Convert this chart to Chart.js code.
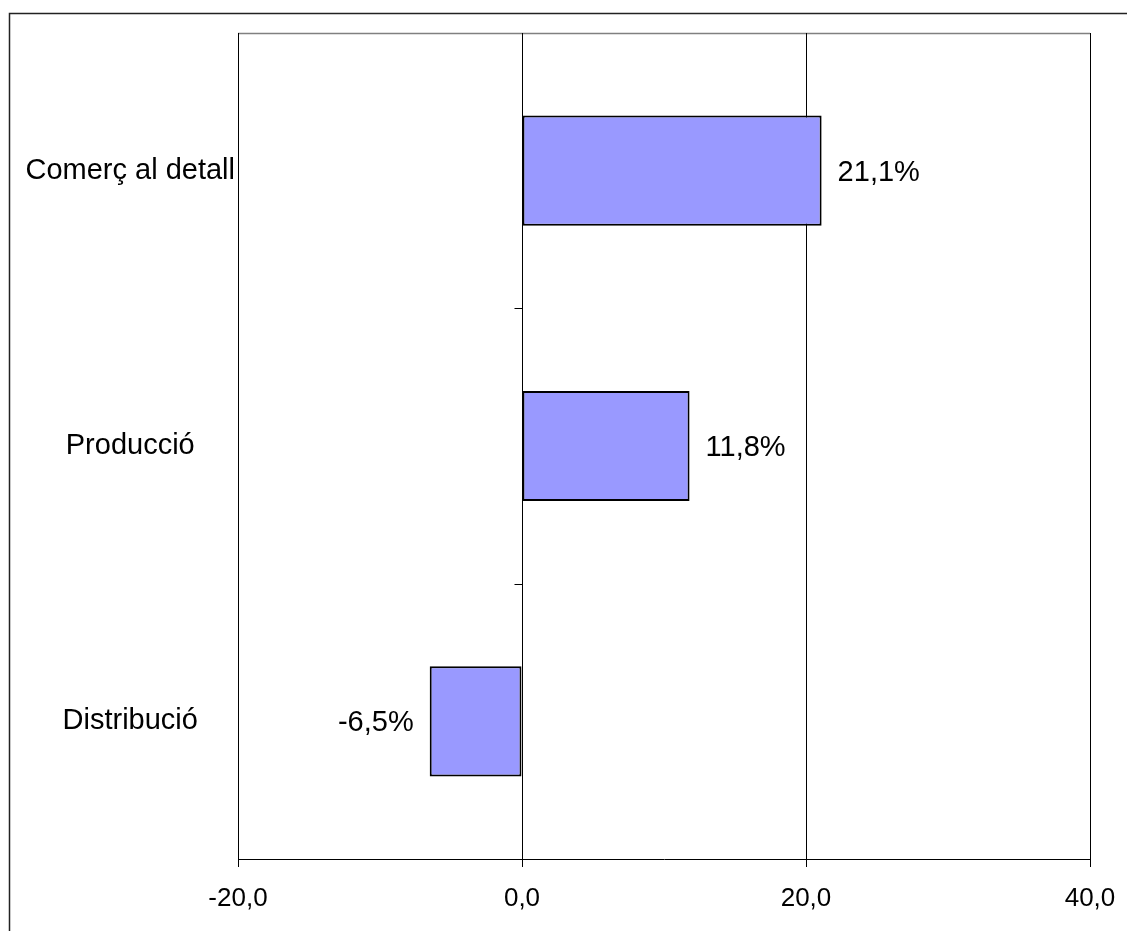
<!DOCTYPE html>
<html>
<head>
<meta charset="utf-8">
<script src="https://cdn.jsdelivr.net/npm/chart.js@4.4.0/dist/chart.umd.min.js"></script>
<style>
  html, body { margin: 0; padding: 0; background: #fff; }
  #wrap { width: 1127px; height: 931px; }
</style>
</head>
<body>
<div id="wrap"><canvas id="barChart" width="1127" height="931"></canvas></div>
<script>
const categories = ["Comerç al detall", "Producció", "Distribució"];
const values = [21.1, 11.8, -6.5];
const xMin = -20;
const xMax = 40;
const xStep = 20;

const fontFamily = '"Liberation Sans", Arial, Helvetica, sans-serif';

function fmtComma(v, digits) {
  return v.toFixed(digits).replace(".", ",");
}

document.addEventListener("DOMContentLoaded", () => {
  const ctx = document.getElementById("barChart");

  // frame around the whole chart + grey top edge of plot area
  const framePlugin = {
    id: "frame",
    beforeDraw(chart) {
      const c = chart.ctx;
      const area = chart.chartArea;
      c.save();
      c.fillStyle = "#fff";
      c.fillRect(0, 0, chart.width, chart.height);
      c.strokeStyle = "#222";
      c.lineWidth = 1.5;
      c.strokeRect(9.5, 13.5, chart.width + 20, chart.height + 20);
      c.strokeStyle = "#808080";
      c.lineWidth = 1.5;
      c.beginPath();
      c.moveTo(area.left, area.top + 0.5);
      c.lineTo(area.right, area.top + 0.5);
      c.stroke();
      c.restore();
    },
    afterDatasetsDraw(chart) {
      const c = chart.ctx;
      const xs = chart.scales.x;
      const ys = chart.scales.y;
      const zero = Math.round(xs.getPixelForValue(0)) + 0.5;
      c.save();
      // category separators drawn as ticks on the zero line
      c.strokeStyle = "#000";
      c.lineWidth = 1;
      for (let i = 1; i < categories.length; i++) {
        const y = Math.round((ys.getPixelForValue(i - 1) + ys.getPixelForValue(i)) / 2) + 0.5;
        c.beginPath();
        c.moveTo(zero - 8, y);
        c.lineTo(zero, y);
        c.stroke();
      }
      // value labels
      c.fillStyle = "#000";
      c.font = "29px " + fontFamily;
      c.textBaseline = "middle";
      const meta = chart.getDatasetMeta(0);
      meta.data.forEach((bar, i) => {
        const v = values[i];
        const label = fmtComma(v, 1) + "%";
        if (v >= 0) {
          c.textAlign = "left";
          c.fillText(label, bar.x + 16, bar.y + 2);
        } else {
          c.textAlign = "right";
          c.fillText(label, bar.x - 16, bar.y + 2);
        }
      });
      c.restore();
    }
  };

  new Chart(ctx, {
    type: "bar",
    data: {
      labels: categories,
      datasets: [
        {
          data: values,
          backgroundColor: "#9999ff",
          borderColor: "#000",
          borderWidth: 2,
          borderSkipped: false,
          categoryPercentage: 1,
          barPercentage: 0.4
        }
      ]
    },
    options: {
      indexAxis: "y",
      responsive: false,
      animation: false,
      layout: { padding: { top: 33, right: 37, left: 0, bottom: 0 } },
      plugins: {
        legend: { display: false },
        tooltip: { enabled: false }
      },
      scales: {
        x: {
          min: xMin,
          max: xMax,
          afterFit(scale) {
            scale.height = 72;
            scale.paddingLeft = 0;
            scale.paddingRight = 0;
          },
          ticks: {
            stepSize: xStep,
            color: "#000",
            padding: 16,
            maxRotation: 0,
            font: { family: fontFamily, size: 26 },
            callback: (v) => fmtComma(v, 1)
          },
          grid: {
            color: "#000",
            lineWidth: 1,
            drawTicks: true,
            tickLength: 8,
            tickColor: "#000"
          },
          border: { display: true, color: "#000", width: 1 }
        },
        y: {
          afterFit(scale) { scale.width = 238; },
          ticks: {
            color: "#000",
            padding: 3,
            crossAlign: "center",
            font: { family: fontFamily, size: 29 }
          },
          grid: { display: false, drawTicks: false },
          border: { display: true, color: "#000", width: 1 }
        }
      }
    },
    plugins: [framePlugin]
  });
});
</script>
</body>
</html>
